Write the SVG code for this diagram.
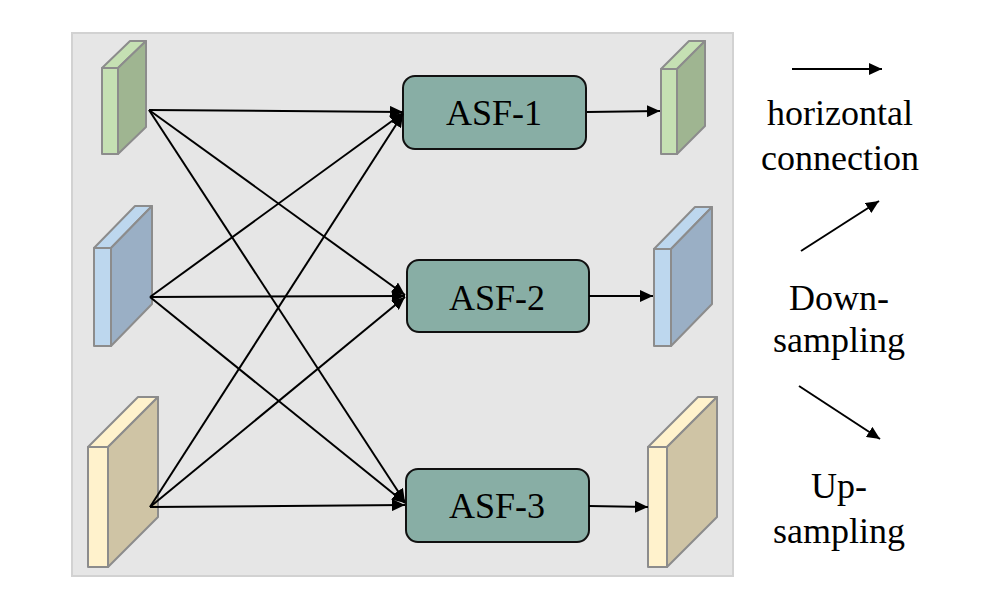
<svg xmlns="http://www.w3.org/2000/svg" width="1006" height="608" viewBox="0 0 1006 608">
<style>
.bg{fill:#e6e6e6;stroke:#d2d2d2;stroke-width:2}
.blk{stroke:#8c8c8c;stroke-width:2;stroke-linejoin:round}
.gf{fill:#c5e0b3}.gs{fill:#9fb591}
.bf{fill:#bdd7ee}.bs{fill:#9aafc5}
.yf{fill:#fff2cc}.ys{fill:#cfc4a5}
.asf{fill:#88aea5;stroke:#111;stroke-width:2}
text{font-family:"Liberation Serif",Tinos,"Times New Roman",Times,serif;font-size:36px;fill:#000;text-anchor:middle}
.ln{stroke:#000;stroke-width:2;fill:none;marker-end:url(#ah)}
</style>
<defs>
<marker id="ah" markerUnits="userSpaceOnUse" markerWidth="14" markerHeight="12" refX="13" refY="6" orient="auto">
<path d="M0,0 L13,6 L0,12 Z" fill="#000"/>
</marker>
</defs>
<rect class="bg" x="72" y="33" width="661" height="543"/>

<g id="in1" class="blk">
<polygon class="gf" points="102,68 118,68 146,41 130,41"/>
<polygon class="gf" points="102,68 118,68 118,154 102,154"/>
<polygon class="gs" points="118,68 146,41 146,127 118,154"/>
</g>
<g id="in2" class="blk">
<polygon class="bf" points="94,248 111,248 152,206 135,206"/>
<polygon class="bf" points="94,248 111,248 111,346 94,346"/>
<polygon class="bs" points="111,248 152,206 152,304 111,346"/>
</g>
<g id="in3" class="blk">
<polygon class="yf" points="88,447 108,447 158,397 138,397"/>
<polygon class="yf" points="88,447 108,447 108,567 88,567"/>
<polygon class="ys" points="108,447 158,397 158,517 108,567"/>
</g>

<g id="out1" class="blk">
<polygon class="gf" points="661,69 677,69 705,41 689,41"/>
<polygon class="gf" points="661,69 677,69 677,154 661,154"/>
<polygon class="gs" points="677,69 705,41 705,126 677,154"/>
</g>
<g id="out2" class="blk">
<polygon class="bf" points="654,249 671,249 712,207 695,207"/>
<polygon class="bf" points="654,249 671,249 671,346 654,346"/>
<polygon class="bs" points="671,249 712,207 712,304 671,346"/>
</g>
<g id="out3" class="blk">
<polygon class="yf" points="648,447 667,447 717,397 698,397"/>
<polygon class="yf" points="648,447 667,447 667,567 648,567"/>
<polygon class="ys" points="667,447 717,397 717,517 667,567"/>
</g>

<g id="asf1">
<rect class="asf" x="403" y="76" width="183" height="73" rx="12"/>
<text x="494" y="125">ASF-1</text>
</g>
<g id="asf2">
<rect class="asf" x="407" y="260" width="182" height="72" rx="12"/>
<text x="497" y="310">ASF-2</text>
</g>
<g id="asf3">
<rect class="asf" x="406" y="469" width="183" height="73" rx="12"/>
<text x="497" y="518">ASF-3</text>
</g>

<g id="connectors">
<line class="ln" x1="149" y1="110" x2="403" y2="112"/>
<line class="ln" x1="149" y1="110" x2="405" y2="295"/>
<line class="ln" x1="149" y1="110" x2="405" y2="502"/>
<line class="ln" x1="150" y1="297" x2="403" y2="113"/>
<line class="ln" x1="150" y1="297" x2="405" y2="296"/>
<line class="ln" x1="150" y1="297" x2="405" y2="503"/>
<line class="ln" x1="150" y1="507" x2="403" y2="114"/>
<line class="ln" x1="150" y1="507" x2="405" y2="297"/>
<line class="ln" x1="150" y1="507" x2="405" y2="505"/>
<line class="ln" x1="587" y1="112" x2="660" y2="111"/>
<line class="ln" x1="589" y1="296" x2="653" y2="296"/>
<line class="ln" x1="589" y1="506" x2="648" y2="507"/>
</g>

<g id="legend">
<line class="ln" x1="792" y1="69" x2="882" y2="69"/>
<text x="840" y="125">horizontal</text>
<text x="840" y="170">connection</text>
<line class="ln" x1="801" y1="251" x2="879" y2="201"/>
<text x="839" y="310">Down-</text>
<text x="839" y="352">sampling</text>
<line class="ln" x1="799" y1="386" x2="880" y2="439"/>
<text x="839" y="498">Up-</text>
<text x="839" y="543">sampling</text>
</g>
</svg>
